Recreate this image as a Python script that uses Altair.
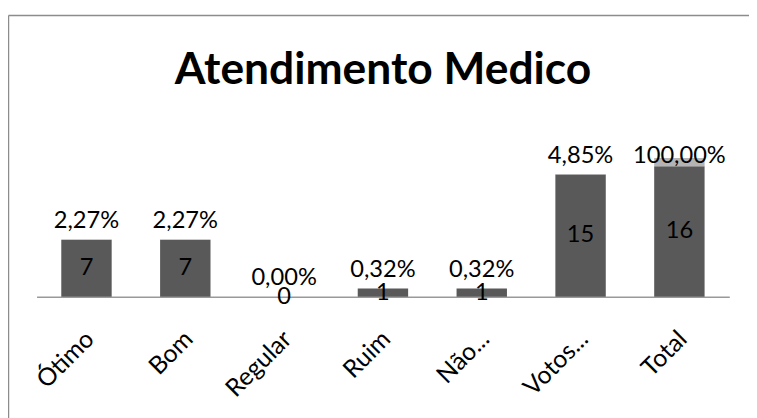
import altair as alt
import pandas as pd

categories = ["Ótimo", "Bom", "Regular", "Ruim", "Não...", "Votos...", "Total"]
counts = [7, 7, 0, 1, 1, 15, 16]
percents = [2.27, 2.27, 0.00, 0.32, 0.32, 4.85, 100.00]

Y_MAX = 18
LABEL_CAP = 14.95  # Excel keeps the top label inside the plot area

df = pd.DataFrame({"cat": categories, "count": counts, "pct": percents})
df["pct_frac"] = df["pct"] / 100.0
df["top"] = df["count"] + df["pct_frac"]
df["mid"] = df["count"] / 2.0
df["pct_label"] = df["pct"].map(lambda v: f"{v:.2f}".replace(".", ",") + "%")
df["label_y"] = df["top"].clip(upper=LABEL_CAP)

FONT = "Lato"

x = alt.X(
    "cat:N",
    sort=categories,
    scale=alt.Scale(paddingInner=0.49, paddingOuter=0.25),
    axis=alt.Axis(
        title=None,
        labelAngle=-45,
        labelFont=FONT,
        labelFontSize=25,
        labelColor="black",
        labelPadding=30,
        labelOffset=-5,
        ticks=False,
        grid=False,
        domainColor="#999999",
        domainWidth=1.5,
    ),
)
yscale = alt.Scale(domain=[0, Y_MAX], nice=False)

base = alt.Chart(df)

bars = base.mark_bar(color="#595959").encode(
    x=x,
    y=alt.Y("count:Q", scale=yscale, axis=None),
)
pct_bars = base.mark_bar(color="#b4b4b4").encode(
    x=x,
    y=alt.Y("count:Q", scale=yscale, axis=None),
    y2="top:Q",
)
count_text = base.mark_text(
    font=FONT, fontSize=24, color="black", baseline="middle"
).encode(
    x=x,
    y=alt.Y("mid:Q", scale=yscale, axis=None),
    text="count:Q",
)
pct_text = base.mark_text(
    font=FONT, fontSize=24, color="black", baseline="alphabetic", dy=-12
).encode(
    x=x,
    y=alt.Y("label_y:Q", scale=yscale, axis=None),
    text="pct_label:N",
)

frame_df = pd.DataFrame({"k": [0]})
left_border = alt.Chart(frame_df).mark_rule(color="#8c8c8c", strokeWidth=1.5).encode(
    x=alt.value(-28.5), y=alt.value(-136.5), y2=alt.value(300)
)
top_border = alt.Chart(frame_df).mark_rule(color="#8c8c8c", strokeWidth=1.5).encode(
    x=alt.value(-28.5), x2=alt.value(725), y=alt.value(-136.5)
)

chart = (
    alt.layer(bars, pct_bars, count_text, pct_text, left_border, top_border)
    .properties(
        width=703,
        height=149,
        background="white",
        autosize=alt.AutoSizeParams(type="none"),
        padding={"left": 29, "top": 141, "right": 20, "bottom": 120},
        title=alt.TitleParams(
            "Atendimento Medico",
            font=FONT,
            fontSize=45,
            fontWeight="bold",
            color="black",
            anchor="middle",
            frame="group",
            baseline="alphabetic",
            offset=0,
            dy=115,
        ),
    )
    .configure_view(stroke="transparent", strokeWidth=0)
)

chart.save("out.html", embed_options={"renderer": "svg", "actions": False})
